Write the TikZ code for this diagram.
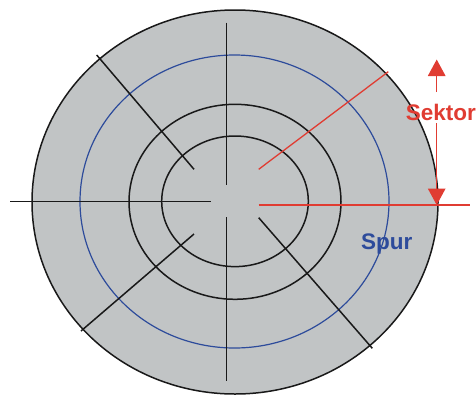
\documentclass[tikz,border=0pt]{standalone}
\usepackage{fontspec}
\setmainfont{Liberation Sans}
\usetikzlibrary{arrows.meta}
\definecolor{disk}{RGB}{193,196,197}
\definecolor{sred}{RGB}{224,60,50}
\definecolor{sblue}{RGB}{45,75,155}
\begin{document}
\begin{tikzpicture}[x=1pt,y=-1pt,
  blk/.style={draw=black!90,line width=1.5pt},
  bluering/.style={draw=sblue,line width=1.2pt},
  redline/.style={draw=sred,line width=1.3pt},
  redarrow/.style={draw=sred,line width=1.4pt,-{Triangle[length=16.5pt,width=17.5pt]}},
  lbl/.style={font=\fontsize{22.5}{26}\selectfont\bfseries,inner sep=0pt,anchor=base west}]
\useasboundingbox (0,0) rectangle (476,397);
% rings
\coordinate (c0) at (235,202);
\coordinate (c1) at (234.5,201.5);
\coordinate (c2) at (235,201.8);
\coordinate (c3) at (235,201.3);
\draw[blk,fill=disk] (c0) ellipse [x radius=203pt, y radius=192pt];
\draw[bluering] (c1) ellipse [x radius=154.5pt, y radius=146.5pt];
\draw[blk] (c2) ellipse [x radius=106pt, y radius=97.5pt];
\draw[blk] (c3) ellipse [x radius=73.3pt, y radius=65.3pt];
% sector lines
\coordinate (vt1) at (226.7,22.7);  \coordinate (vt2) at (226.7,185);
\coordinate (vb1) at (226.7,217.3); \coordinate (vb2) at (226.7,380.7);
\coordinate (hl1) at (10,201.7);    \coordinate (hl2) at (210.7,201.7);
\coordinate (ul1) at (96.7,55);     \coordinate (ul2) at (194,169.3);
\coordinate (ll1) at (194,234);     \coordinate (ll2) at (81,331);
\coordinate (lr1) at (258.7,217.7); \coordinate (lr2) at (372.3,348.3);
\draw[blk] (vt1) -- (vt2);
\draw[blk] (vb1) -- (vb2);
\draw[blk] (hl1) -- (hl2);
\draw[blk] (ul1) -- (ul2);
\draw[blk] (ll1) -- (ll2);
\draw[blk] (lr1) -- (lr2);
% red lines
\coordinate (rh1) at (258.7,205); \coordinate (rh2) at (470,205);
\coordinate (rd1) at (258.7,169.3); \coordinate (rd2) at (388.3,71.7);
\draw[redline] (rh1) -- (rh2);
\draw[redline] (rd1) -- (rd2);
% labels
\node[lbl,text=sred] (sek) at (405.7,120) {Sektor};
\node[lbl,text=sblue] (spur) at (361,249.3) {Spur};
% sector arrows
\coordinate (at1) at (436.7,92);  \coordinate (at2) at (436.7,59.5);
\coordinate (ab1) at (436.7,123); \coordinate (ab2) at (436.7,205);
\draw[redarrow] (at1) -- (at2);
\draw[redarrow] (ab1) -- (ab2);
\end{tikzpicture}
\end{document}
